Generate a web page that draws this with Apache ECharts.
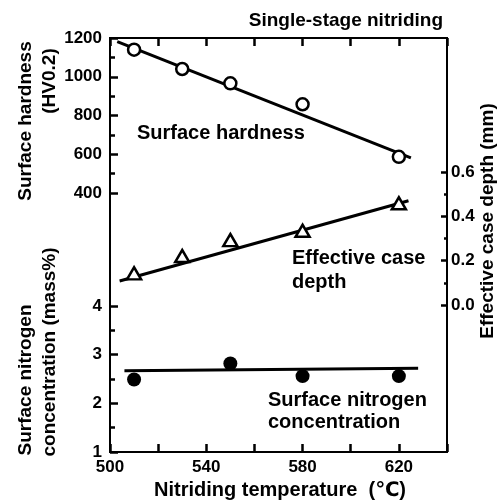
<!DOCTYPE html>
<html>
<head>
<meta charset="utf-8">
<script src="https://cdn.jsdelivr.net/npm/echarts@6/dist/echarts.min.js"></script>
<style>html,body{margin:0;padding:0;background:#fff;}#c{width:504px;height:501px;}</style>
</head>
<body>
<div id="c"></div>
<script>
// ---- data ----
const tempLabels = [500, 540, 580, 620];
const hardTemp = [510, 530, 550, 580, 620];
const hardness = [1140, 1040, 966, 858, 587];
const hardFitTemp = [503, 625];
const hardFit = [1181, 581];
const depthTemp = [510, 530, 550, 580, 620];
const depth = [0.143, 0.221, 0.293, 0.335, 0.459];
const depthFitTemp = [504, 624];
const depthFit = [0.108, 0.470];
const nTemp = [510, 550, 580, 620];
const nitrogen = [2.49, 2.82, 2.56, 2.56];
const nFitTemp = [506, 628];
const nFit = [2.67, 2.72];

const FF = '"Liberation Sans", Arial, "DejaVu Sans", sans-serif';
const zip = (a, b) => a.map((v, i) => [v, b[i]]);

const chart = echarts.init(document.getElementById('c'));

const L = 110, W = 337;
const lab = (extra) => Object.assign({color: '#000', fontSize: 17, fontWeight: 'bold', fontFamily: FF}, extra);
const hiddenX = (g) => ({type: 'value', gridIndex: g, min: 500, max: 640, show: false});
const tk = (len) => ({show: true, inside: true, length: len, lineStyle: {color: '#000', width: 2.5}});
const mtk = (len) => ({show: true, splitNumber: 2, length: len, lineStyle: {color: '#000', width: 2.5}});
const axl = () => ({show: true, onZero: false, lineStyle: {color: '#000', width: 2}});

function txt(text, x, y, opts) {
  opts = opts || {};
  return {
    type: 'text', x: x, y: y, rotation: opts.rot || 0, z: 100,
    style: {
      text: text, x: 0, y: 0,
      font: 'bold ' + (opts.size || 20) + 'px ' + FF,
      fill: '#000',
      textAlign: opts.align || 'left',
      textVerticalAlign: 'middle'
    }
  };
}

const option = {
  animation: false,
  grid: [
    {left: L, width: W, top: 38, height: 414, show: true, borderColor: '#000', borderWidth: 2},
    {left: L, width: W, top: 38, height: 155},
    {left: L, width: W, top: 172, height: 133},
    {left: L, width: W, top: 306, height: 146}
  ],
  xAxis: [
    {type: 'value', gridIndex: 0, position: 'bottom', min: 500, max: 640, interval: 20, z: 10,
     axisLine: axl(), axisTick: tk(8), splitLine: {show: false},
     axisLabel: lab({margin: 7, formatter: v => tempLabels.indexOf(v) >= 0 ? String(v) : ''})},
    {type: 'value', gridIndex: 0, position: 'top', min: 500, max: 640, interval: 20, z: 10,
     axisLine: axl(), axisTick: tk(8), splitLine: {show: false}, axisLabel: {show: false}},
    hiddenX(1), hiddenX(2), hiddenX(3)
  ],
  yAxis: [
    {type: 'value', gridIndex: 0, min: 0, max: 1, show: false},
    {type: 'value', gridIndex: 1, position: 'left', min: 400, max: 1200, interval: 200, z: 10,
     axisLine: axl(), axisTick: tk(8), minorTick: mtk(5),
     splitLine: {show: false}, minorSplitLine: {show: false},
     axisLabel: lab({margin: 8, formatter: v => String(v)})},
    {type: 'value', gridIndex: 2, position: 'right', min: 0, max: 0.6, interval: 0.2, z: 10,
     axisLine: axl(), axisTick: tk(6), minorTick: mtk(3),
     splitLine: {show: false}, minorSplitLine: {show: false},
     axisLabel: lab({margin: 4, formatter: v => v.toFixed(1)})},
    {type: 'value', gridIndex: 3, position: 'left', min: 1, max: 4, interval: 1, z: 10,
     axisLine: axl(), axisTick: tk(8), minorTick: mtk(5),
     splitLine: {show: false}, minorSplitLine: {show: false},
     axisLabel: lab({margin: 8, formatter: v => String(v)})}
  ],
  series: [
    {type: 'line', xAxisIndex: 2, yAxisIndex: 1, data: zip(hardFitTemp, hardFit), symbol: 'none',
     lineStyle: {color: '#000', width: 3}, z: 2},
    {type: 'scatter', xAxisIndex: 2, yAxisIndex: 1, data: zip(hardTemp, hardness), symbol: 'circle', symbolSize: 12,
     itemStyle: {color: '#fff', borderColor: '#000', borderWidth: 2.5, opacity: 1}, z: 5},
    {type: 'line', xAxisIndex: 3, yAxisIndex: 2, data: zip(depthFitTemp, depthFit), symbol: 'none',
     lineStyle: {color: '#000', width: 3}, z: 2},
    {type: 'scatter', xAxisIndex: 3, yAxisIndex: 2, data: zip(depthTemp, depth), symbol: 'triangle', symbolSize: [14, 12],
     itemStyle: {color: '#fff', borderColor: '#000', borderWidth: 2.5, opacity: 1}, z: 5},
    {type: 'line', xAxisIndex: 4, yAxisIndex: 3, data: zip(nFitTemp, nFit), symbol: 'none',
     lineStyle: {color: '#000', width: 3}, z: 2},
    {type: 'scatter', xAxisIndex: 4, yAxisIndex: 3, data: zip(nTemp, nitrogen), symbol: 'circle', symbolSize: 14,
     itemStyle: {color: '#000', borderColor: '#000', borderWidth: 0, opacity: 1}, z: 5}
  ],
  graphic: [
    txt('Single-stage nitriding', 443, 21, {size: 19, align: 'right'}),
    txt('Surface hardness', 137, 133),
    txt('Effective case', 292, 258),
    txt('depth', 292, 282),
    txt('Surface nitrogen', 268, 400),
    txt('concentration', 268, 422),
    txt('Surface hardness', 26, 121, {size: 19, align: 'center', rot: Math.PI / 2}),
    txt('(HV0.2)', 50, 81, {size: 19, align: 'center', rot: Math.PI / 2}),
    txt('Surface nitrogen', 26, 380, {size: 19, align: 'center', rot: Math.PI / 2}),
    txt('concentration (mass%)', 50, 352, {size: 19, align: 'center', rot: Math.PI / 2}),
    txt('Effective case depth (mm)', 488, 221, {size: 19, align: 'center', rot: Math.PI / 2}),
    txt('Nitriding temperature  (\u2103)', 280, 490, {size: 20, align: 'center'})
  ]
};
chart.setOption(option);
</script>
</body>
</html>
